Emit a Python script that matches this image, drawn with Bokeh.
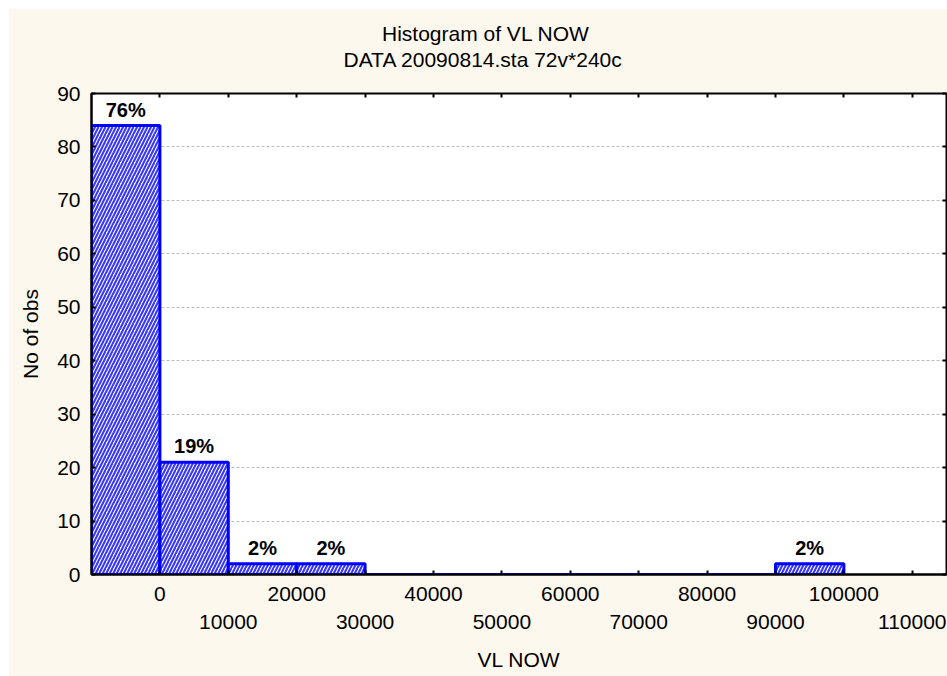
from bokeh.plotting import figure
from bokeh.models import LinearAxis, FixedTicker, Title, ColumnDataSource, Range1d
from bokeh.core.properties import value
from bokeh.embed import file_html
from bokeh.resources import INLINE

# ---- data ----
bin_edges = [-10000, 0, 10000, 20000, 30000, 40000, 50000, 60000, 70000, 80000, 90000, 100000]
counts = [84, 21, 2, 2, 0, 0, 0, 0, 0, 0, 2]
x_ticks = [0, 10000, 20000, 30000, 40000, 50000, 60000, 70000, 80000, 90000, 100000, 110000]
y_ticks = [0, 10, 20, 30, 40, 50, 60, 70, 80, 90]
title_1 = "Histogram of VL NOW"
title_2 = "DATA 20090814.sta 72v*240c"
x_label = "VL NOW"
y_label = "No of obs"

FONT = "Liberation Sans"
FS = "21px"
BLUE = "#0000FF"

total = sum(counts)
lefts = bin_edges[:-1]
rights = bin_edges[1:]
mids = [(a + b) / 2 for a, b in zip(lefts, rights)]
pct = [f"{round(100 * c / total)}%" if c > 0 else "" for c in counts]

src = ColumnDataSource(dict(left=lefts, right=rights, top=counts, mid=mids, pct=pct))

p = figure(width=939, height=668,
           x_range=Range1d(-10000, 115000), y_range=Range1d(0, 90),
           output_backend="svg", toolbar_location=None,
           min_border_left=83, min_border_right=1, min_border_top=85, min_border_bottom=102,
           background_fill_color="white", border_fill_color="#FDF8EE",
           outline_line_color="black", outline_line_width=2)
p.margin = (8, 0, 0, 8)
p.title.text = ""

# grid
p.xgrid.visible = False
p.ygrid.ticker = FixedTicker(ticks=y_ticks)
p.ygrid.grid_line_color = "#BEBEBE"
p.ygrid.grid_line_dash = "3 2"
p.ygrid.grid_line_width = 1

def style_axis(ax):
    ax.major_label_text_font = FONT
    ax.major_label_text_font_size = FS
    ax.major_label_text_color = "black"
    ax.axis_label_text_font = FONT
    ax.axis_label_text_font_size = FS
    ax.axis_label_text_font_style = "normal"
    ax.axis_label_text_color = "black"
    ax.minor_tick_line_color = None
    ax.major_tick_in = 4
    ax.major_tick_out = 0
    ax.major_tick_line_color = "black"
    ax.major_tick_line_width = 2
    ax.axis_line_color = "black"
    ax.axis_line_width = 2

# bottom axis row 1 (even labels)
xa = p.xaxis[0]
style_axis(xa)
xa.ticker = FixedTicker(ticks=x_ticks)
xa.major_label_overrides = {t: ("" if (t // 10000) % 2 == 1 else str(t)) for t in x_ticks}
xa.major_label_standoff = 12

# bottom axis row 2 (odd labels) + axis label
odd_ticks = [t for t in x_ticks if (t // 10000) % 2 == 1]
xa2 = LinearAxis(ticker=FixedTicker(ticks=odd_ticks))
style_axis(xa2)
xa2.axis_line_color = None
xa2.major_tick_line_color = None
xa2.major_label_overrides = {t: str(t) for t in odd_ticks}
xa2.major_label_standoff = 11
xa2.axis_label = x_label
xa2.axis_label_standoff = 16
p.add_layout(xa2, "below")

# left axis
ya = p.yaxis[0]
style_axis(ya)
ya.ticker = FixedTicker(ticks=y_ticks)
ya.major_label_standoff = 11
ya.axis_label = y_label
ya.axis_label_standoff = 12

# top and right axes: inward ticks only
xt = LinearAxis(ticker=FixedTicker(ticks=x_ticks))
style_axis(xt)
xt.axis_line_color = None
xt.major_label_text_font_size = "0px"
xt.major_label_overrides = {t: "" for t in x_ticks}
xt.major_label_standoff = 0
p.add_layout(xt, "above")

yr = LinearAxis(ticker=FixedTicker(ticks=y_ticks))
style_axis(yr)
yr.axis_line_color = None
yr.major_label_text_font_size = "0px"
yr.major_label_overrides = {t: "" for t in y_ticks}
yr.major_label_standoff = 0
p.add_layout(yr, "right")

# titles: an empty spacer nearest the frame, then line 2, then line 1
spacer = Title(text=" ", text_font_size="1px", standoff=19.3)
t2 = Title(text=title_2, align="left", offset=252, standoff=1.3,
           text_font=FONT, text_font_size=FS, text_font_style="normal",
           text_color="black")
t1 = Title(text=title_1, align="left", offset=290.5, standoff=1.3,
           text_font=FONT, text_font_size=FS, text_font_style="normal",
           text_color="black")
p.add_layout(spacer, "above")
p.add_layout(t2, "above")
p.add_layout(t1, "above")

# bars
p.quad(left="left", right="right", bottom=0, top="top", source=src,
       fill_color="#F6F6FF", line_color=BLUE, line_width=3,
       hatch_pattern="/", hatch_color="#3535FF", hatch_scale=7, hatch_weight=2)

# percentage labels
p.text(x="mid", y="top", text="pct", source=src, text_align="center",
       text_baseline="alphabetic", y_offset=-16,
       text_font=value(FONT), text_font_size="20px", text_font_style="bold",
       text_color="black")

open("out.html", "w").write(file_html(p, INLINE))
